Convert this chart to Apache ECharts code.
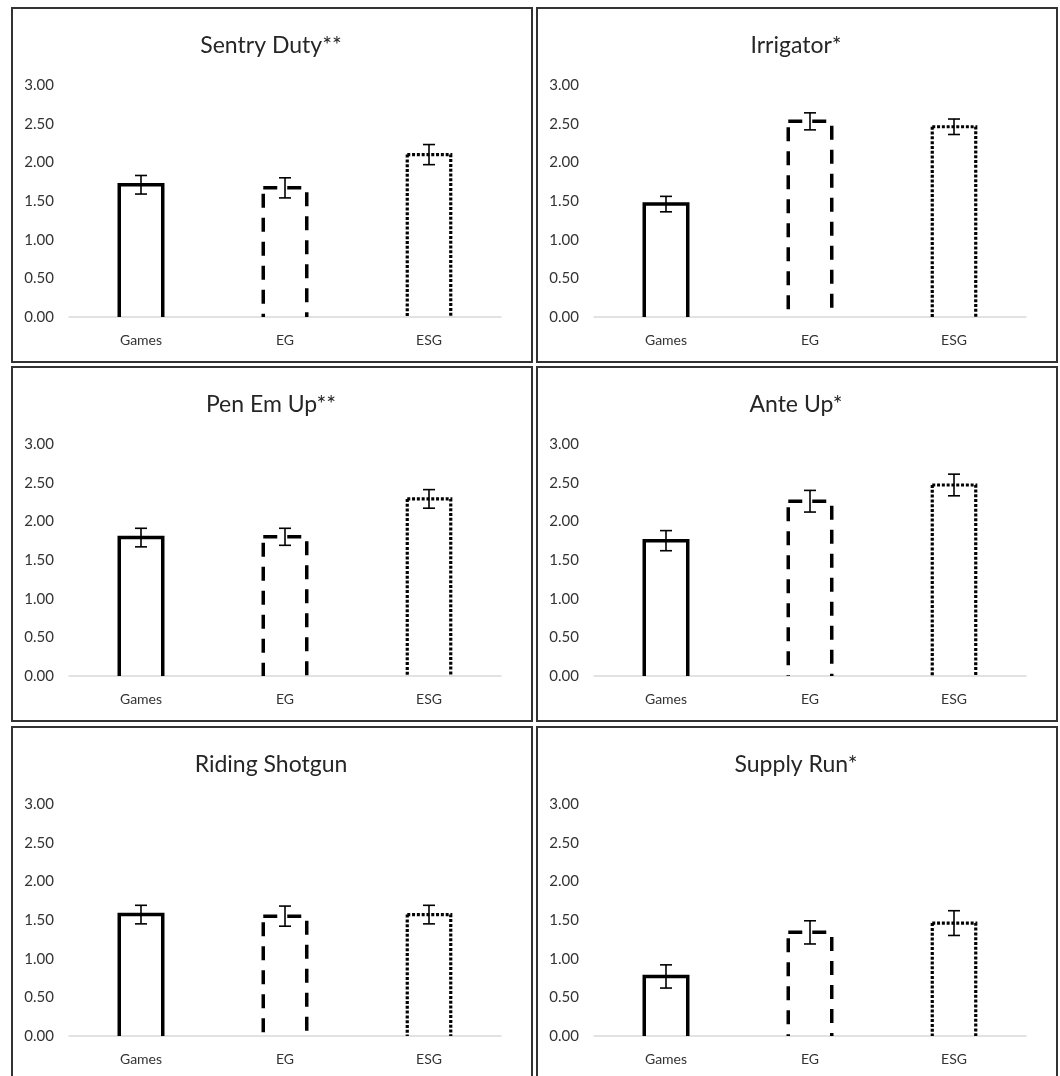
<!DOCTYPE html>
<html><head><meta charset="utf-8">
<script src="https://cdn.jsdelivr.net/npm/echarts@6/dist/echarts.min.js"></script>
<style>
html,body{margin:0;padding:0;background:#fff;width:1060px;height:1076px;overflow:hidden;}
.panel{position:absolute;box-sizing:border-box;border:2px solid #333;width:522px;height:356px;background:#fff;}
.c{width:518px;height:352px;}
</style></head><body>
<div class="panel" style="left:11px;top:7px"><div class="c" id="c0"></div></div>
<div class="panel" style="left:536px;top:7px"><div class="c" id="c1"></div></div>
<div class="panel" style="left:11px;top:366px"><div class="c" id="c2"></div></div>
<div class="panel" style="left:536px;top:366px"><div class="c" id="c3"></div></div>
<div class="panel" style="left:11px;top:726px"><div class="c" id="c4"></div></div>
<div class="panel" style="left:536px;top:726px"><div class="c" id="c5"></div></div>
<script>
// ---- data ----
const categories = ['Games', 'EG', 'ESG'];
const panelTitles = ['Sentry Duty**', 'Irrigator*', 'Pen Em Up**', 'Ante Up*', 'Riding Shotgun', 'Supply Run*'];
const yTicks = [0, 0.5, 1.0, 1.5, 2.0, 2.5, 3.0];

const sentryDuty = [1.71, 1.67, 2.10];
const irrigator = [1.46, 2.53, 2.46];
const penEmUp = [1.79, 1.80, 2.29];
const anteUp = [1.75, 2.26, 2.47];
const ridingShotgun = [1.57, 1.55, 1.57];
const supplyRun = [0.77, 1.34, 1.46];

const sentryDutyErr = [0.12, 0.13, 0.13];
const irrigatorErr = [0.10, 0.11, 0.10];
const penEmUpErr = [0.12, 0.11, 0.12];
const anteUpErr = [0.13, 0.14, 0.14];
const ridingShotgunErr = [0.12, 0.13, 0.12];
const supplyRunErr = [0.15, 0.15, 0.16];

const panelValues = [sentryDuty, irrigator, penEmUp, anteUp, ridingShotgun, supplyRun];
const panelErrors = [sentryDutyErr, irrigatorErr, penEmUpErr, anteUpErr, ridingShotgunErr, supplyRunErr];

// ---- styles ----
const barStyles = [
  { width: 3.5, dash: null, leftOffset: 0 },
  { width: 3.5, dash: [14, 10], leftOffset: 18 },
  { width: 3.2, dash: [3, 1.8], leftOffset: 0 }
];
const FONT = 'Lato, "Noto Sans", sans-serif';

function renderBar(params, api) {
  const i = api.value(0);
  const v = api.value(1);
  const top = api.coord([i, v]);
  const base = api.coord([i, 0]);
  const band = api.size([1, 0])[0];
  const hw = band * 0.151;
  const xl = top[0] - hw, xr = top[0] + hw;
  const st = barStyles[i];
  const common = { stroke: '#000', lineWidth: st.width, fill: null, lineCap: 'butt', lineJoin: 'miter' };
  if (!st.dash) {
    return { type: 'polyline', shape: { points: [[xl, base[1]], [xl, top[1]], [xr, top[1]], [xr, base[1]]] }, style: common };
  }
  return { type: 'group', children: [
    { type: 'polyline', shape: { points: [[xl, top[1]], [xr, top[1]], [xr, base[1]]] },
      style: Object.assign({}, common, { lineDash: st.dash, lineDashOffset: 0 }) },
    { type: 'polyline', shape: { points: [[xl, top[1]], [xl, base[1]]] },
      style: Object.assign({}, common, { lineDash: st.dash, lineDashOffset: st.leftOffset }) }
  ]};
}

function renderErr(params, api) {
  const i = api.value(0);
  const m = api.value(1);
  const e = api.value(2);
  const hi = api.coord([i, m + e]);
  const lo = api.coord([i, m - e]);
  const cap = 6;
  const s = { stroke: '#000', lineWidth: 1.6 };
  return { type: 'group', children: [
    { type: 'line', shape: { x1: hi[0], y1: hi[1], x2: lo[0], y2: lo[1] }, style: s },
    { type: 'line', shape: { x1: hi[0] - cap, y1: hi[1], x2: hi[0] + cap, y2: hi[1] }, style: s },
    { type: 'line', shape: { x1: lo[0] - cap, y1: lo[1], x2: lo[0] + cap, y2: lo[1] }, style: s }
  ]};
}

for (let p = 0; p < 6; p++) {
  const chart = echarts.init(document.getElementById('c' + p), null, { renderer: 'canvas' });
  const vals = panelValues[p];
  const errs = panelErrors[p];
  chart.setOption({
    animation: false,
    backgroundColor: '#fff',
    title: {
      text: panelTitles[p], left: 253, top: 20, textAlign: 'center',
      textStyle: { fontFamily: FONT, fontSize: 23, fontWeight: 'normal', color: '#262626' }
    },
    grid: { left: 56, right: 30, top: 76, height: 232 },
    xAxis: {
      type: 'category', data: categories,
      axisLine: { show: true, lineStyle: { color: '#d9d9d9', width: 1.5 } },
      axisTick: { show: false },
      axisLabel: { color: '#333', fontFamily: FONT, fontSize: 14, margin: 16 }
    },
    yAxis: {
      type: 'value', min: yTicks[0], max: yTicks[yTicks.length - 1], interval: 0.5,
      axisLine: { show: false }, axisTick: { show: false }, splitLine: { show: false },
      axisLabel: { color: '#333', fontFamily: FONT, fontSize: 15, margin: 15,
        formatter: v => v.toFixed(2) }
    },
    series: [
      { type: 'custom', renderItem: renderBar, encode: { x: 0, y: 1 },
        data: categories.map((c, i) => [i, vals[i]]), z: 2 },
      { type: 'custom', renderItem: renderErr, encode: { x: 0, y: 1 },
        data: categories.map((c, i) => [i, vals[i], errs[i]]), z: 3 }
    ]
  });
}
</script>
</body></html>
